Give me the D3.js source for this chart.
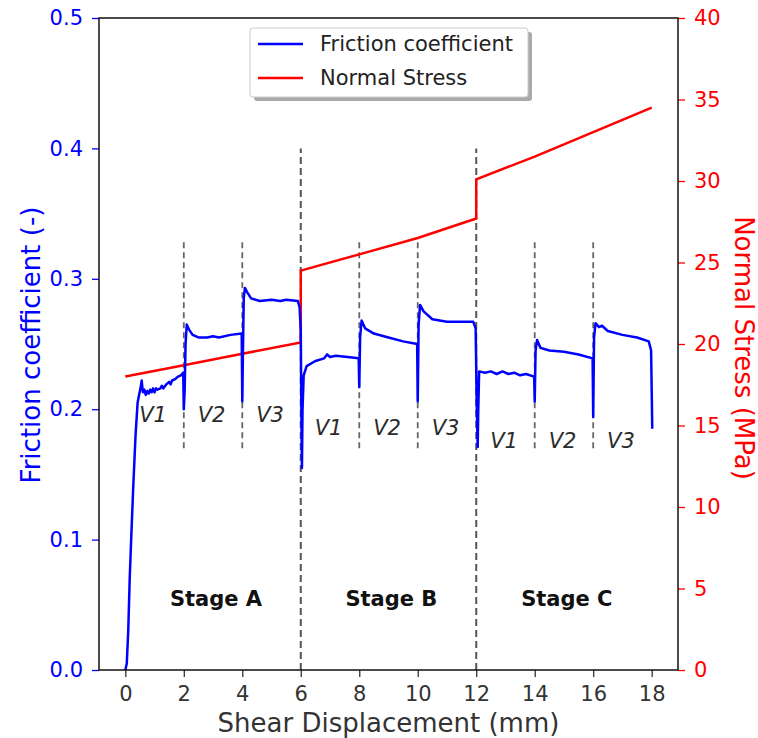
<!DOCTYPE html>
<html>
<head>
<meta charset="utf-8">
<script src="https://cdn.jsdelivr.net/npm/d3@7"></script>
<style>
  body { margin: 0; background: #fff; }
  svg text { font-family: "DejaVu Sans", sans-serif; }
</style>
</head>
<body>
<div id="chart"></div>
<script>
// friction coefficient trace: [shear displacement (mm), mu]
const frictionPts = [
  [0, 0], [0.05, 0.005], [0.1, 0.03], [0.15, 0.07], [0.2, 0.1], [0.27, 0.14], [0.35, 0.18],
  [0.42, 0.205], [0.48, 0.212], [0.52, 0.216], [0.56, 0.222], [0.6, 0.213], [0.65, 0.215],
  [0.7, 0.211], [0.75, 0.214], [0.8, 0.212], [0.85, 0.215], [0.9, 0.213], [0.95, 0.216],
  [1.0, 0.213], [1.05, 0.216], [1.1, 0.215], [1.2, 0.216], [1.25, 0.218], [1.3, 0.216],
  [1.4, 0.219], [1.5, 0.221], [1.55, 0.219], [1.6, 0.222], [1.7, 0.223], [1.8, 0.225],
  [1.9, 0.226], [1.98, 0.228],
  [2.0, 0.2], [2.03, 0.215], [2.06, 0.25], [2.1, 0.265], [2.18, 0.261], [2.3, 0.257],
  [2.5, 0.255], [2.8, 0.255], [3.0, 0.256], [3.2, 0.255], [3.6, 0.257], [3.98, 0.258],
  [4.0, 0.206], [4.02, 0.24], [4.05, 0.285], [4.09, 0.293], [4.16, 0.29], [4.3, 0.285],
  [4.6, 0.283], [5.0, 0.284], [5.3, 0.283], [5.5, 0.284], [5.9, 0.283], [5.96, 0.278],
  [6.0, 0.26], [6.02, 0.2], [6.04, 0.155], [6.06, 0.2], [6.1, 0.226], [6.2, 0.233],
  [6.5, 0.237], [6.8, 0.239], [6.9, 0.242], [7.0, 0.24], [7.2, 0.241], [7.6, 0.24],
  [7.98, 0.239],
  [8.0, 0.217], [8.03, 0.255], [8.08, 0.268], [8.2, 0.262], [8.5, 0.258], [9.0, 0.255],
  [9.5, 0.252], [9.98, 0.25],
  [10.0, 0.206], [10.03, 0.265], [10.08, 0.28], [10.2, 0.275], [10.5, 0.269], [11.0, 0.267],
  [11.5, 0.267], [11.9, 0.267], [11.98, 0.262], [12.02, 0.2], [12.05, 0.171], [12.07, 0.2],
  [12.1, 0.229], [12.3, 0.228], [12.5, 0.229], [12.7, 0.227], [12.9, 0.229], [13.1, 0.227],
  [13.3, 0.228], [13.5, 0.226], [13.7, 0.227], [13.98, 0.225],
  [14.0, 0.206], [14.03, 0.245], [14.08, 0.253], [14.2, 0.247], [14.5, 0.245], [15.0, 0.244],
  [15.5, 0.242], [15.98, 0.239],
  [16.0, 0.194], [16.03, 0.255], [16.08, 0.266], [16.2, 0.263], [16.3, 0.264], [16.5, 0.26],
  [17.0, 0.257], [17.5, 0.255], [17.9, 0.252], [17.98, 0.245], [18.0, 0.215], [18.02, 0.185]
];

// normal stress trace: [shear displacement (mm), MPa]
const stressPts = [
  [0, 18.0], [2, 18.7], [4, 19.4], [6, 20.1],
  [6, 24.5], [8, 25.5], [10, 26.5], [12, 27.7],
  [12, 30.1], [14, 31.5], [16, 33.0], [18, 34.5]
];

const xTicks = [0, 2, 4, 6, 8, 10, 12, 14, 16, 18];
const muTicks = [0.0, 0.1, 0.2, 0.3, 0.4, 0.5];
const stressTicks = [0, 5, 10, 15, 20, 25, 30, 35, 40];

const stageLines = [6, 12];              // from mu 0 to 0.4
const stepLines = [2, 4, 8, 10, 14, 16]; // from mu 0.17 to 0.33

const velLabels = ["V1", "V2", "V3", "V1", "V2", "V3", "V1", "V2", "V3"];
const velX = [0.95, 2.95, 4.95, 6.95, 8.95, 10.95, 12.95, 14.95, 16.95];
const velMu = [0.196, 0.196, 0.196, 0.186, 0.186, 0.186, 0.176, 0.176, 0.176];

const stageLabels = ["Stage A", "Stage B", "Stage C"];
const stageX = [3.1, 9.1, 15.1];

const W = 758, H = 738;
const margin = { top: 18, right: 80, bottom: 68, left: 99 };
const width = W - margin.left - margin.right;
const height = H - margin.top - margin.bottom;

const svg = d3.select("#chart")
  .append("svg")
  .attr("width", W)
  .attr("height", H);

const g = svg.append("g")
  .attr("transform", `translate(${margin.left},${margin.top})`);

const x = d3.scaleLinear().domain([-0.9, 18.9]).range([0, width]);
const yMu = d3.scaleLinear().domain([0, 0.5]).range([height, 0]);
const yS = d3.scaleLinear().domain([0, 40]).range([height, 0]);

// dashed separators
g.selectAll(".stage-line")
  .data(stageLines)
  .enter()
  .append("line")
  .attr("x1", (d) => x(d))
  .attr("x2", (d) => x(d))
  .attr("y1", yMu(0))
  .attr("y2", yMu(0.4))
  .attr("stroke", "#555")
  .attr("stroke-width", 2)
  .attr("stroke-dasharray", "7,4");

g.selectAll(".step-line")
  .data(stepLines)
  .enter()
  .append("line")
  .attr("x1", (d) => x(d))
  .attr("x2", (d) => x(d))
  .attr("y1", yMu(0.17))
  .attr("y2", yMu(0.33))
  .attr("stroke", "#666")
  .attr("stroke-width", 1.8)
  .attr("stroke-dasharray", "6,4");

// curves
const muLine = d3.line().x((d) => x(d[0])).y((d) => yMu(d[1]));
const sLine = d3.line().x((d) => x(d[0])).y((d) => yS(d[1]));

g.append("path")
  .datum(stressPts)
  .attr("d", sLine)
  .attr("fill", "none")
  .attr("stroke", "#ff0000")
  .attr("stroke-width", 2.5);

g.append("path")
  .datum(frictionPts)
  .attr("d", muLine)
  .attr("fill", "none")
  .attr("stroke", "#0000ff")
  .attr("stroke-width", 2.5)
  .attr("stroke-linejoin", "round");

// text labels
g.selectAll(".vel")
  .data(velLabels)
  .enter()
  .append("text")
  .attr("x", (d, i) => x(velX[i]))
  .attr("y", (d, i) => yMu(velMu[i]))
  .attr("text-anchor", "middle")
  .attr("dy", "0.35em")
  .style("font-style", "italic")
  .style("font-size", "21px")
  .attr("fill", "#2b2b2b")
  .text((d) => d);

g.selectAll(".stage")
  .data(stageLabels)
  .enter()
  .append("text")
  .attr("x", (d, i) => x(stageX[i]))
  .attr("y", yMu(0.055))
  .attr("text-anchor", "middle")
  .attr("dy", "0.35em")
  .style("font-weight", "bold")
  .style("font-size", "21px")
  .attr("fill", "#111")
  .text((d) => d);

// axes
const xAxis = g.append("g")
  .attr("transform", `translate(0,${height})`)
  .call(d3.axisBottom(x).tickValues(xTicks).tickSize(7).tickPadding(9).tickSizeOuter(0));
xAxis.selectAll("text").style("font-size", "21px").attr("fill", "#333");
xAxis.selectAll("line").attr("stroke", "#333").attr("stroke-width", 1.3);

const leftAxis = g.append("g")
  .call(d3.axisLeft(yMu).tickValues(muTicks).tickFormat(d3.format(".1f")).tickSize(7).tickPadding(9).tickSizeOuter(0));
leftAxis.selectAll("text").style("font-size", "21px").attr("fill", "#0000ff");
leftAxis.selectAll("line").attr("stroke", "#0000ff").attr("stroke-width", 1.3);

const rightAxis = g.append("g")
  .attr("transform", `translate(${width},0)`)
  .call(d3.axisRight(yS).tickValues(stressTicks).tickSize(7).tickPadding(9).tickSizeOuter(0));
rightAxis.selectAll("text").style("font-size", "21px").attr("fill", "#ff0000");
rightAxis.selectAll("line").attr("stroke", "#ff0000").attr("stroke-width", 1.3);

g.selectAll(".domain").remove();

// frame
g.append("rect")
  .attr("width", width)
  .attr("height", height)
  .attr("fill", "none")
  .attr("stroke", "#111")
  .attr("stroke-width", 1.5);

// axis titles
svg.append("text")
  .attr("x", margin.left + x(9))
  .attr("y", 732)
  .attr("text-anchor", "middle")
  .style("font-size", "26px")
  .attr("fill", "#333")
  .text("Shear Displacement (mm)");

svg.append("text")
  .attr("transform", `translate(40,345) rotate(-90)`)
  .attr("text-anchor", "middle")
  .style("font-size", "26px")
  .attr("fill", "#0000ff")
  .text("Friction coefficient (-)");

svg.append("text")
  .attr("transform", `translate(735,348) rotate(90)`)
  .attr("text-anchor", "middle")
  .style("font-size", "26px")
  .attr("fill", "#ff0000")
  .text("Normal Stress (MPa)");

// legend
const legend = svg.append("g").attr("transform", "translate(250,28)");
legend.append("rect")
  .attr("x", 4).attr("y", 4)
  .attr("width", 278).attr("height", 69)
  .attr("rx", 3)
  .attr("fill", "#aaa");
legend.append("rect")
  .attr("width", 278).attr("height", 69)
  .attr("rx", 3)
  .attr("fill", "#fff")
  .attr("stroke", "#ccc");

const legendItems = [
  { label: "Friction coefficient", color: "#0000ff" },
  { label: "Normal Stress", color: "#ff0000" }
];
legendItems.forEach((d, i) => {
  const yy = 16 + i * 34;
  legend.append("line")
    .attr("x1", 8).attr("x2", 53)
    .attr("y1", yy).attr("y2", yy)
    .attr("stroke", d.color)
    .attr("stroke-width", 2.5);
  legend.append("text")
    .attr("x", 70).attr("y", yy)
    .attr("dy", "0.35em")
    .style("font-size", "21px")
    .attr("fill", "#222")
    .text(d.label);
});
</script>
</body>
</html>
